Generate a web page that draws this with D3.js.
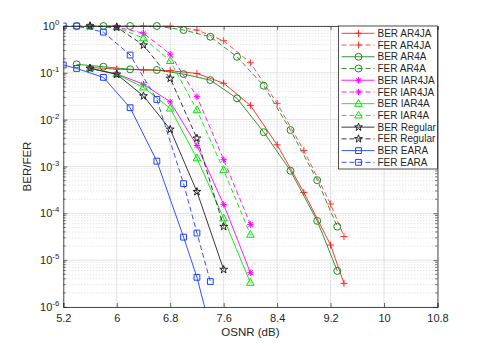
<!DOCTYPE html>
<html>
<head>
<meta charset="utf-8">
<script src="https://cdn.jsdelivr.net/npm/d3@7"></script>
<style>
  body { margin: 0; background: #fff; }
  svg { font-family: "Liberation Sans", Arial, Helvetica, sans-serif; }
</style>
</head>
<body>
<svg id="chart" width="485" height="346"></svg>
<script>
// OSNR (dB) sample points and BER / FER
var osnrAR4JA = [5.6, 6.0, 6.4, 6.8, 7.2, 7.6, 8.0, 8.4, 8.8, 9.2, 9.4];
var berAR4JA = [0.13, 0.12, 0.115, 0.111, 0.097, 0.06, 0.0202, 2.9e-3, 2.8e-4, 2.1e-5, 3.2e-6];
var ferAR4JA = [1, 1, 1, 1, 0.82, 0.485, 0.164, 0.0223, 2.2e-3, 1.58e-4, 3.2e-5];

var osnrAR4A = [5.4, 5.8, 6.2, 6.6, 7.0, 7.4, 7.8, 8.2, 8.6, 9.0, 9.3];
var berAR4A = [0.152, 0.135, 0.119, 0.115, 0.094, 0.070, 0.0285, 5.4e-3, 8.1e-4, 6.9e-5, 5.9e-6];
var ferAR4A = [1, 1, 1, 1, 0.82, 0.59, 0.22, 0.053, 6e-3, 5.1e-4, 5.2e-5];

var osnrIAR = [5.6, 6.0, 6.4, 6.8, 7.2, 7.6, 8.0];
var berIAR4JA = [0.125, 0.095, 0.057, 0.024, 2.8e-3, 1.55e-4, 5.4e-6];
var ferIAR4JA = [1, 0.95, 0.70, 0.25, 0.031, 1.4e-3, 5.8e-5];
var berIAR4A = [0.125, 0.093, 0.049, 0.0174, 1.5e-3, 7.8e-5, 3.3e-6];
var ferIAR4A = [1, 0.94, 0.55, 0.18, 0.016, 8.4e-4, 3.5e-5];

var osnrRegular = [5.6, 6.0, 6.4, 6.8, 7.2, 7.6];
var berRegular = [0.125, 0.093, 0.032, 6.2e-3, 2.9e-4, 6.3e-6];
var ferRegular = [1, 0.94, 0.39, 0.076, 4e-3, 5.2e-5];

var osnrEARA = [5.2, 5.4, 5.8, 6.2, 6.6, 7.0, 7.2, 7.4];
var berEARA = [0.147, 0.124, 0.08, 0.018, 1.3e-3, 3.1e-5, 4.3e-6, 3.4e-7];
var ferEARA = [1, 1, 0.74, 0.24, 0.027, 4.3e-4, 3.8e-5, 3.5e-6];

var xTicks = [5.2, 6, 6.8, 7.6, 8.4, 9.2, 10, 10.8];
var yExponents = [0, -1, -2, -3, -4, -5, -6];

var seriesNames = ['BER AR4JA', 'FER AR4JA', 'BER AR4A', 'FER AR4A', 'BER IAR4JA', 'FER IAR4JA',
  'BER IAR4A', 'FER IAR4A', 'BER Regular', 'FER Regular', 'BER EARA', 'FER EARA'];

var pL = 63.3, pR = 437.5, pT = 26, pB = 307;

var svg = d3.select('#chart');
var x = d3.scaleLinear().domain([5.2, 10.8]).range([pL, pR]);
var y = d3.scaleLog().domain([1e-6, 1]).range([pB, pT]);

// marker shapes (stroke only, like matlab)
var markers = {
  plus: 'M-3.5,0H3.5M0,-3.5V3.5',
  circle: d3.symbol(d3.symbolCircle, 38)(),
  asterisk: 'M-3.2,0H3.2M0,-3.2V3.2M-2.3,-2.3L2.3,2.3M-2.3,2.3L2.3,-2.3',
  triangle: 'M0,-4.2L3.8,2.6H-3.8Z',
  star: d3.symbol(d3.symbolStar, 19)(),
  square: 'M-2.9,-2.9H2.9V2.9H-2.9Z'
};

var series = [
  {xs: osnrAR4JA, ys: berAR4JA, color: '#ff2020', dash: null, marker: 'plus'},
  {xs: osnrAR4JA, ys: ferAR4JA, color: '#ff3838', dash: '5,3', marker: 'plus'},
  {xs: osnrAR4A, ys: berAR4A, color: '#1a8a1a', dash: null, marker: 'circle'},
  {xs: osnrAR4A, ys: ferAR4A, color: '#1a8a1a', dash: '5,3', marker: 'circle'},
  {xs: osnrIAR, ys: berIAR4JA, color: '#ff00ff', dash: null, marker: 'asterisk'},
  {xs: osnrIAR, ys: ferIAR4JA, color: '#ff00ff', dash: '5,3', marker: 'asterisk'},
  {xs: osnrIAR, ys: berIAR4A, color: '#00e600', dash: null, marker: 'triangle'},
  {xs: osnrIAR, ys: ferIAR4A, color: '#00e600', dash: '5,3', marker: 'triangle'},
  {xs: osnrRegular, ys: berRegular, color: '#222222', dash: null, marker: 'star'},
  {xs: osnrRegular, ys: ferRegular, color: '#222222', dash: '5,3', marker: 'star'},
  {xs: osnrEARA, ys: berEARA, color: '#1f3fff', dash: null, marker: 'square'},
  {xs: osnrEARA, ys: ferEARA, color: '#1f3fff', dash: '5,3', marker: 'square'}
];

svg.append('defs').append('clipPath').attr('id', 'plotclip')
  .append('rect').attr('x', pL).attr('y', pT - 5)
  .attr('width', pR - pL + 5).attr('height', pB - pT + 5);

// grid
var grid = svg.append('g');
var minorVals = [];
yExponents.forEach(function(e) {
  if (e === 0) return;
  for (var k = 2; k <= 9; k++) minorVals.push(k * Math.pow(10, e));
});
grid.selectAll('line.minor').data(minorVals).enter().append('line')
  .attr('x1', pL).attr('x2', pR)
  .attr('y1', function(d) { return y(d); }).attr('y2', function(d) { return y(d); })
  .attr('stroke', '#c8c8c8').attr('stroke-width', 0.7).attr('stroke-dasharray', '1,2');
grid.selectAll('line.majy').data(yExponents).enter().append('line')
  .attr('x1', pL).attr('x2', pR)
  .attr('y1', function(d) { return y(Math.pow(10, d)); }).attr('y2', function(d) { return y(Math.pow(10, d)); })
  .attr('stroke', '#e2e2e2').attr('stroke-width', 1);
grid.selectAll('line.majx').data(xTicks).enter().append('line')
  .attr('y1', pT).attr('y2', pB)
  .attr('x1', function(d) { return x(d); }).attr('x2', function(d) { return x(d); })
  .attr('stroke', '#e2e2e2').attr('stroke-width', 1);

// curves
var plot = svg.append('g').attr('clip-path', 'url(#plotclip)');
var line = d3.line().x(function(d) { return x(d[0]); }).y(function(d) { return y(d[1]); });

series.forEach(function(s) {
  var pts = d3.zip(s.xs, s.ys);
  plot.append('path').datum(pts)
    .attr('d', line)
    .attr('fill', 'none')
    .attr('stroke', s.color)
    .attr('stroke-width', 0.9)
    .attr('stroke-dasharray', s.dash);
  plot.selectAll(null).data(pts).enter().append('path')
    .attr('d', markers[s.marker])
    .attr('transform', function(d) { return 'translate(' + x(d[0]) + ',' + y(d[1]) + ')'; })
    .attr('fill', 'none')
    .attr('stroke', s.color)
    .attr('stroke-width', 1);
});

// axes, ticks inward
var axisColor = '#262626';
var yTickVals = yExponents.map(function(e) { return Math.pow(10, e); });
var xAxis = svg.append('g').attr('transform', 'translate(0,' + pB + ')')
  .call(d3.axisBottom(x).tickValues(xTicks).tickSize(-4).tickPadding(7)
    .tickFormat(function(d) { return String(d); }));
var xTop = svg.append('g').attr('transform', 'translate(0,' + pT + ')')
  .call(d3.axisTop(x).tickValues(xTicks).tickSize(-4).tickFormat(''));
var yLeft = svg.append('g').attr('transform', 'translate(' + pL + ',0)')
  .call(d3.axisLeft(y).tickValues(yTickVals).tickSize(-4).tickFormat(''));
var yRight = svg.append('g').attr('transform', 'translate(' + pR + ',0)')
  .call(d3.axisRight(y).tickValues(yTickVals).tickSize(-4).tickFormat(''));
[xAxis, xTop, yLeft, yRight].forEach(function(a) {
  a.select('.domain').attr('stroke', axisColor).attr('stroke-width', 0.8);
  a.selectAll('.tick line').attr('stroke', axisColor).attr('stroke-width', 0.7);
});
xAxis.selectAll('.tick text').attr('fill', axisColor).attr('font-size', 11)
  .attr('font-family', '"Liberation Sans", Arial, sans-serif');

// minor ticks on log axis
[[pL, 2.5], [pR, -2.5]].forEach(function(side) {
  svg.append('g').selectAll('line').data(minorVals).enter().append('line')
    .attr('x1', side[0]).attr('x2', side[0] + side[1])
    .attr('y1', function(d) { return y(d); }).attr('y2', function(d) { return y(d); })
    .attr('stroke', axisColor).attr('stroke-width', 0.6);
});

// y tick labels as 10^n
var yLab = svg.append('g').attr('fill', axisColor);
yExponents.forEach(function(e) {
  var t = yLab.append('text')
    .attr('x', pL - 4)
    .attr('y', y(Math.pow(10, e)) + 4)
    .attr('text-anchor', 'end')
    .attr('font-size', 11);
  t.append('tspan').text('10');
  t.append('tspan').attr('dy', -5).attr('font-size', 7.8).text(String(e));
});

// axis labels
svg.append('text').attr('x', (pL + pR) / 2).attr('y', 336)
  .attr('text-anchor', 'middle').attr('font-size', 11.5).attr('fill', axisColor)
  .text('OSNR (dB)');
svg.append('text')
  .attr('transform', 'translate(31,' + ((pT + pB) / 2) + ') rotate(-90)')
  .attr('text-anchor', 'middle').attr('font-size', 11.5).attr('fill', axisColor)
  .text('BER/FER');

// legend
var lg = svg.append('g');
var lgLeft = 338.5, rowH = 11.73;
lg.append('rect').attr('x', lgLeft).attr('y', pT)
  .attr('width', pR - lgLeft).attr('height', 143)
  .attr('fill', '#fff').attr('stroke', axisColor).attr('stroke-width', 0.8);
series.forEach(function(s, i) {
  var cy = pT + 7.3 + i * rowH;
  lg.append('line').attr('x1', lgLeft + 3).attr('x2', lgLeft + 36)
    .attr('y1', cy).attr('y2', cy)
    .attr('stroke', s.color).attr('stroke-width', 0.9).attr('stroke-dasharray', s.dash);
  lg.append('path').attr('d', markers[s.marker])
    .attr('transform', 'translate(' + (lgLeft + 20) + ',' + cy + ')')
    .attr('fill', 'none').attr('stroke', s.color).attr('stroke-width', 1);
  lg.append('text').attr('x', lgLeft + 39).attr('y', cy + 3.6)
    .attr('font-size', 10).attr('fill', axisColor)
    .text(seriesNames[i]);
});
</script>
</body>
</html>
